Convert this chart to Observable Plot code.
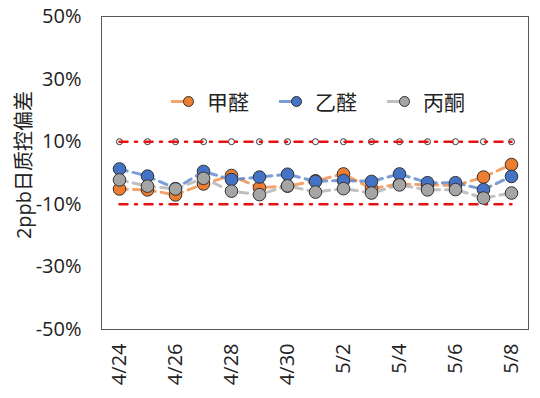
<!DOCTYPE html>
<html>
<head>
<meta charset="utf-8">
<script src="https://cdn.jsdelivr.net/npm/d3@7"></script>
<script src="https://cdn.jsdelivr.net/npm/@observablehq/plot@0.6"></script>
<style>
  html, body { margin: 0; padding: 0; background: #fff; }
  #wrap { position: relative; width: 540px; height: 398px; font-family: "Open Sans", "Noto Sans CJK SC", sans-serif; }
  #legend { position: absolute; top: 86px; left: 171px; display: flex; align-items: center; font-size: 21px; color: #222; font-family: "Noto Sans CJK SC", sans-serif; }
  .item { display: flex; align-items: center; margin-right: 30px; }
  .sym { position: relative; width: 24px; height: 12px; margin-right: 12px; }
  .sym .ln { position: absolute; left: 0; top: 5px; width: 16px; height: 3px; opacity: 0.7; }
  .sym .mk { position: absolute; left: 12px; top: 1px; width: 9px; height: 9px; border-radius: 50%; border: 1px solid #333; }
</style>
</head>
<body>
<div id="wrap">
  <div id="chart"></div>
  <div id="legend"></div>
</div>
<script>
const dates = ["4/24","4/25","4/26","4/27","4/28","4/29","4/30","5/1","5/2","5/3","5/4","5/5","5/6","5/7","5/8"];
const tickLabels = ["4/24","4/26","4/28","4/30","5/2","5/4","5/6","5/8"];
const yTicks = [-50, -30, -10, 10, 30, 50];
const yTitle = "2ppb日质控偏差";
const seriesNames = ["甲醛", "乙醛", "丙酮"];
const seriesColors = ["#ED7D31", "#4472C4", "#A5A5A5"];
const formaldehyde = [-5.1, -5.4, -7.0, -3.5, -0.8, -4.7, -4.2, -2.5, -0.3, -5.0, -3.5, -3.8, -4.0, -1.3, 2.7];
const acetaldehyde = [1.3, -1.0, -5.0, 0.5, -2.1, -1.3, -0.4, -2.7, -2.4, -2.7, -0.3, -3.1, -3.1, -5.3, -1.1];
const acetone = [-2.2, -4.2, -5.1, -1.7, -5.8, -6.9, -4.1, -6.1, -5.0, -6.4, -3.8, -5.4, -5.3, -8.0, -6.4];
const upperLimit = 10;
const lowerLimit = -10;

const seriesValues = [formaldehyde, acetaldehyde, acetone];
const limitRows = dates.map(d => ({date: d, upper: upperLimit, lower: lowerLimit}));

const marks = [
  Plot.frame({stroke: "#595959", strokeWidth: 1}),
  Plot.dot(limitRows, {x: "date", y: "upper", r: 3, fill: "#fff", stroke: "#333", strokeWidth: 1}),
  Plot.lineY(limitRows, {x: "date", y: "upper", stroke: "#E81010", strokeWidth: 2.5, strokeDasharray: "8,7.5,2,7.5"}),
  Plot.lineY(limitRows, {x: "date", y: "lower", stroke: "#E81010", strokeWidth: 2.5, strokeDasharray: "8,7.5,2,7.5"})
];
seriesValues.forEach((vals, i) => {
  const rows = dates.map((d, j) => ({date: d, value: vals[j]}));
  marks.push(Plot.lineY(rows, {x: "date", y: "value", stroke: seriesColors[i], strokeOpacity: 0.7, strokeWidth: 3, strokeDasharray: "8,6"}));
  marks.push(Plot.dot(rows, {x: "date", y: "value", r: 6.3, fill: seriesColors[i], stroke: "#333", strokeWidth: 1}));
});
marks.push(Plot.text([yTitle], {frameAnchor: "left", textAnchor: "middle", dx: -77, dy: -8, rotate: -90, text: d => d, fontSize: 20, fill: "#222"}));

const chart = Plot.plot({
  width: 540,
  height: 398,
  marginLeft: 101,
  marginRight: 12,
  marginTop: 16,
  marginBottom: 69,
  style: {fontSize: "20px", fontFamily: "'Open Sans', 'Noto Sans CJK SC', sans-serif", color: "#222", background: "#fff"},
  x: {type: "point", domain: dates, padding: 0.5, ticks: tickLabels, tickSize: 0, tickPadding: 14, tickRotate: -90, label: null},
  y: {domain: [-50, 50], ticks: yTicks, tickFormat: d => d + "%", tickSize: 0, tickPadding: 20, label: null},
  marks
});
document.getElementById("chart").appendChild(chart);

const legend = document.getElementById("legend");
seriesNames.forEach((name, i) => {
  const item = document.createElement("div");
  item.className = "item";
  item.innerHTML = `<span class="sym"><span class="ln" style="background:${seriesColors[i]}"></span><span class="mk" style="background:${seriesColors[i]}"></span></span><span>${name}</span>`;
  legend.appendChild(item);
});
</script>
</body>
</html>
